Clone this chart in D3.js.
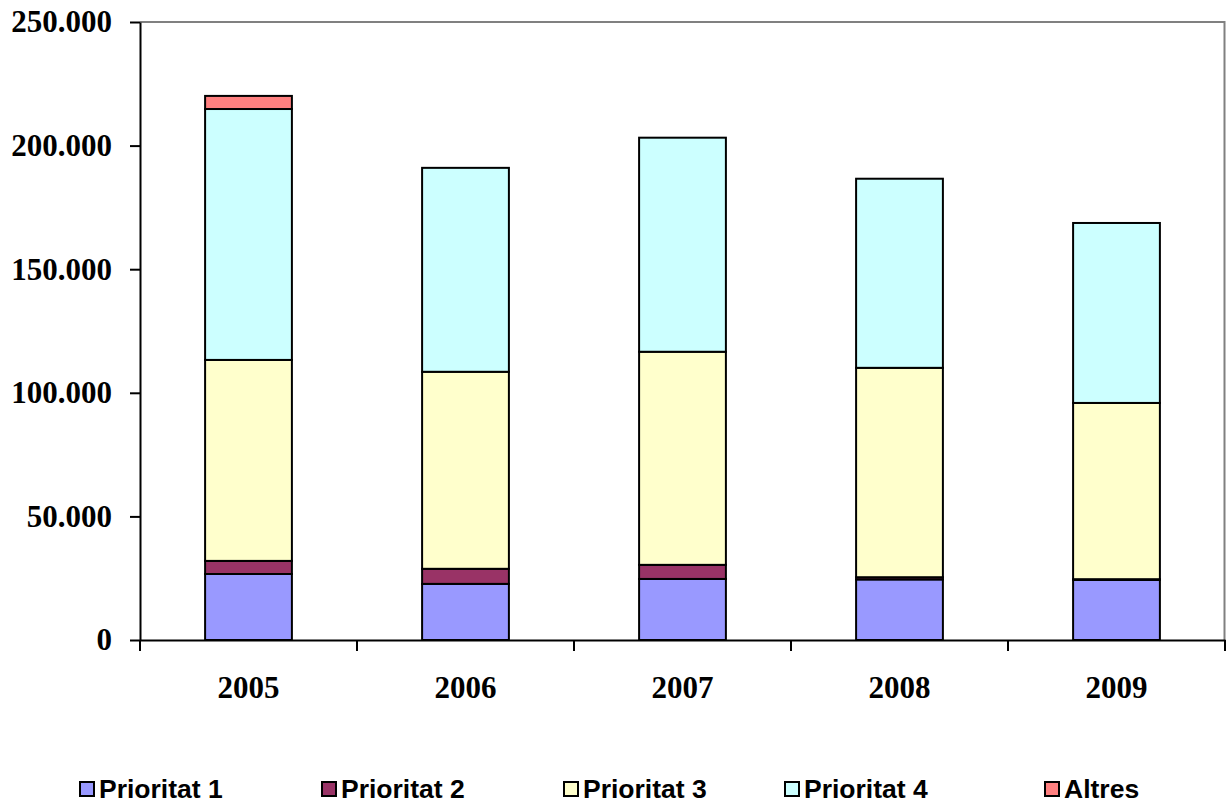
<!DOCTYPE html>
<html><head><meta charset="utf-8">
<script src="https://cdn.jsdelivr.net/npm/d3@7"></script>
<style>body{margin:0;background:#fff}svg{display:block}</style>
</head><body>
<script>
const years = ["2005","2006","2007","2008","2009"];
const seriesNames = ["Prioritat 1","Prioritat 2","Prioritat 3","Prioritat 4","Altres"];
const prioritat1 = [26700, 22700, 24700, 24500, 24300];
const prioritat2 = [5300, 6100, 5700, 900, 300];
const prioritat3 = [81300, 79700, 86200, 84700, 71300];
const prioritat4 = [101500, 82500, 86600, 76500, 72800];
const altres = [5300, 0, 0, 0, 0];
const yTicks = [0, 50000, 100000, 150000, 200000, 250000];
const colors = ["#9999FF","#993366","#FFFFCC","#CCFFFF","#FF8080"];

const W = 1226, H = 803;
const m = {left:140, right:1, top:22, bottom:163};
const svg = d3.select("body").append("svg").attr("width",W).attr("height",H);

const rows = years.map((y,i)=>({year:y, "Prioritat 1":prioritat1[i], "Prioritat 2":prioritat2[i], "Prioritat 3":prioritat3[i], "Prioritat 4":prioritat4[i], "Altres":altres[i]}));
const stack = d3.stack().keys(seriesNames)(rows);

const x = d3.scaleBand().domain(years).range([m.left, W-m.right]).paddingInner(0.6).paddingOuter(0.3);
const y = d3.scaleLinear().domain([0,250000]).range([H-m.bottom, m.top]);

// plot border (gray top/right)
svg.append("path").attr("d",`M${m.left},${m.top}H${W-m.right-0.5}V${H-m.bottom}`).attr("fill","none").attr("stroke","#808080").attr("stroke-width",2);

const g = svg.append("g");
stack.forEach((s,si)=>{
  g.selectAll(null).data(s.filter(d=>d[1]-d[0]>0)).join("rect")
   .attr("x",d=>x(d.data.year)).attr("width",x.bandwidth())
   .attr("y",d=>y(d[1])).attr("height",d=>y(d[0])-y(d[1]))
   .attr("fill",colors[si]).attr("stroke","#000").attr("stroke-width",2);
});

const serif = "'Liberation Serif','Times New Roman',serif";
// y axis
const fmt = v => v===0 ? "0" : d3.format(",")(v).replace(/,/g,".");
const ya = svg.append("g").attr("transform",`translate(${m.left},0)`)
  .call(d3.axisLeft(y).tickValues(yTicks).tickFormat(fmt).tickSize(10).tickSizeOuter(0));
ya.select(".domain").attr("stroke","#000").attr("stroke-width",2);
ya.selectAll(".tick line").attr("stroke","#000").attr("stroke-width",2);
ya.selectAll("text").attr("font-family",serif).attr("font-weight","bold").attr("font-size","31px").attr("fill","#000").attr("x",-28);

// x axis
const xa = svg.append("g").attr("transform",`translate(0,${H-m.bottom})`)
  .call(d3.axisBottom(x).tickSize(0).tickSizeOuter(0));
xa.select(".domain").attr("stroke","#000").attr("stroke-width",2);
xa.selectAll("text").attr("font-family",serif).attr("font-weight","bold").attr("font-size","31px").attr("fill","#000").attr("dy","0").attr("y",58);
// category separator ticks
const bounds = d3.range(years.length+1).map(i=> m.left + i*(W-m.right-m.left)/years.length);
svg.append("g").selectAll("line").data(bounds).join("line")
  .attr("x1",d=>d).attr("x2",d=>d).attr("y1",H-m.bottom).attr("y2",H-m.bottom+11)
  .attr("stroke","#000").attr("stroke-width",2);

// legend
const legX = [80, 322, 564, 785, 1045];
const leg = svg.append("g");
seriesNames.forEach((n,i)=>{
  leg.append("rect").attr("x",legX[i]).attr("y",782).attr("width",14).attr("height",14)
    .attr("fill",colors[i]).attr("stroke","#000").attr("stroke-width",2);
  leg.append("text").attr("x",legX[i]+19).attr("y",798).text(n)
    .attr("font-family","'Liberation Sans',Arial,sans-serif").attr("font-weight","bold").attr("font-size","26.5px").attr("fill","#000");
});
</script>
</body></html>
